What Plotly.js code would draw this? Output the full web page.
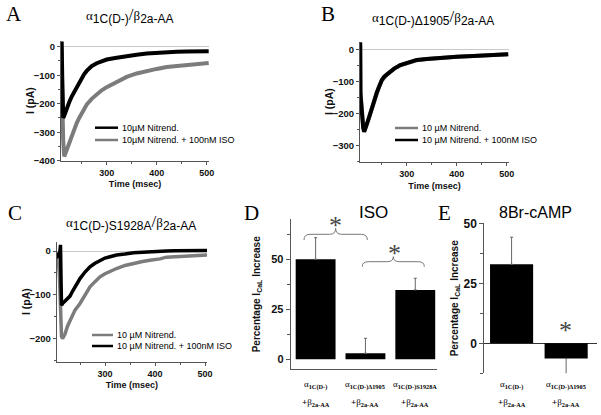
<!DOCTYPE html>
<html><head><meta charset="utf-8">
<script src="https://cdn.plot.ly/plotly-3.0.1.min.js"></script>
<style>html,body{margin:0;padding:0;background:#fff}#chart{width:601px;height:415px}</style>
</head><body><div id="chart"></div>
<script>
// ---------- Panel A ----------
const timeA  = [209, 210, 211, 212, 213, 215, 218, 220, 225, 230, 235, 240, 245, 250, 255, 260, 270, 280, 290, 300, 320, 340, 360, 380, 400, 420, 440, 460, 480, 504];
const blackA = [0, 18, -100, -200, -250, -242, -225, -215, -195, -175, -158, -140, -123, -108, -96, -85, -68, -58, -50, -45, -39, -32, -28, -24, -21, -20, -18, -17, -16, -16];
const grayA  = [0, -50, -150, -250, -330, -385, -372, -362, -338, -310, -290, -268, -250, -232, -216, -203, -183, -167, -153, -142, -122, -106, -94, -85, -78, -71, -67, -63, -60, -57];
const namesA = ['10\u00b5M Nitrend.', '10\u00b5M Nitrend. + 100nM ISO'];

// ---------- Panel B ----------
const timeB  = [206, 207, 207.5, 210, 213, 215, 218, 222, 226, 230, 235, 240, 245, 250, 255, 260, 267, 275, 287, 300, 320, 340, 360, 380, 400, 433, 460, 480, 503];
const grayB  = [0, 15, -130, -195, -240, -250, -242, -224, -204, -186, -160, -136, -115, -98, -87, -79, -70, -60, -50, -43, -34, -30, -27, -25, -23, -21, -19, -17, -15];
const blackB = [0, 22, -140, -200, -245, -256, -245, -225, -205, -188, -160, -135, -113, -96, -85, -78, -70, -60, -49, -42, -33, -30, -27, -24, -23, -21, -19, -17, -15];
const namesB = ['10 \u00b5M Nitrend.', '10 \u00b5M Nitrend. + 100nM ISO'];

// ---------- Panel C ----------
const timeC  = [203, 206, 209, 211, 212, 213, 215, 220, 225, 230, 235, 240, 250, 260, 270, 280, 290, 300, 310, 323, 340, 357, 375, 390, 410, 423, 440, 460, 480, 504];
const grayC  = [-3, -8, -60, -150, -185, -195, -200, -190, -172, -158, -146, -135, -120, -100, -82, -70, -59, -52, -46, -40, -33, -28, -24, -21, -18, -14, -13, -11, -10, -9];
const blackC = [-5, -12, -10, 14, -60, -124, -120, -115, -110, -103, -92, -82, -63, -48, -36, -28, -21, -16, -13, -9, -7, -4, -3, -1.5, -1, 0, 0.5, 1, 1, 1];
const namesC = ['10 \u00b5M Nitrend.', '10 \u00b5M Nitrend. + 100nM ISO'];

// ---------- Panel D (ISO) ----------
const catD   = ['a1C(D-)', 'a1C(D-)D1905', 'a1C(D-)S1928A'];
const valD   = [50, 3, 34.7];
const errD   = [10.8, 7.5, 5.8];
const labD1  = ['\u03b1<sub><b>1C(D-)</b></sub>', '\u03b1<sub><b>1C(D-)\u03941905</b></sub>', '\u03b1<sub><b>1C(D-)S1928A</b></sub>'];
const labD2  = ['<b>+</b>\u03b2<sub><b>2a-AA</b></sub>', '<b>+</b>\u03b2<sub><b>2a-AA</b></sub>', '<b>+</b>\u03b2<sub><b>2a-AA</b></sub>'];

// ---------- Panel E (8Br-cAMP) ----------
const catE   = ['a1C(D-)', 'a1C(D-)D1905'];
const valE   = [32.9, -6.3];
const errEup = [11.3, 0];
const errEdn = [0, 8.3];
const labE1  = ['\u03b1<sub><b>1C(D-)</b></sub>', '\u03b1<sub><b>1C(D-)\u03941905</b></sub>'];
const labE2  = ['<b>+</b>\u03b2<sub><b>2a-AA</b></sub>', '<b>+</b>\u03b2<sub><b>2a-AA</b></sub>'];

// ---------- helpers ----------
const W = 601, H = 415;
const fx = x => x / W, fy = y => 1 - y / H;
const BLACK = '#000', GRAY = '#7c7c7c', AX = '#555';
const SANS = 'Liberation Sans, Arial, sans-serif', SERIF = 'Liberation Serif, Times New Roman, serif';

function ann(x, y, text, size, extra) {
  return Object.assign({xref:'paper', yref:'paper', x:fx(x), y:fy(y), text:text, showarrow:false,
    xanchor:'center', yanchor:'middle', font:{family:SANS, size:size, color:'#000'}}, extra || {});
}
function legLine(x0, x1, y, color) {
  return {type:'line', xref:'paper', yref:'paper', x0:fx(x0), x1:fx(x1), y0:fy(y), y1:fy(y), line:{color:color, width:2.5}};
}
function pathPx(pts) {
  return pts.map(p => p[0] + ' ' + p.slice(1).map((v, i) => (i % 2 === 0 ? fx(v) : fy(v)).toFixed(5)).join(',')).join(' ');
}
function brace(x0, x1, yEnd, yMid, yPeak) {
  const xm = (x0 + x1) / 2, r = 6;
  return {type:'path', xref:'paper', yref:'paper', line:{color:'#777', width:1},
    path: pathPx([['M', x0, yEnd], ['Q', x0, yMid, x0 + r, yMid], ['L', xm - r, yMid], ['Q', xm, yMid, xm, yPeak],
                  ['Q', xm, yMid, xm + r, yMid], ['L', x1 - r, yMid], ['Q', x1, yMid, x1, yEnd]])};
}
function title(x, y, a, sub1, b, sub2) {
  return ann(x, y, '<span style="font-family:Liberation Serif;font-size:13px">' + a + '</span><sub><span style="font-size:12px">' + sub1 +
    '</span></sub><span style="font-family:Liberation Serif;font-size:17px">/</span><span style="font-family:Liberation Serif;font-size:13px">' + b +
    '</span><sub><span style="font-size:12px">' + sub2 + '</span></sub>', 13);
}
const yTitle = (x, y) => ann(x, y, '<b>I (pA)</b>', 10.5, {textangle:-90, font:{family:SANS, size:10.5, color:'#111'}});
const star = (x, y) => ann(x, y, '*', 26, {font:{family:SERIF, size:26, color:'#444'}});

const tickF = s => ({family:SANS, size:s, color:'#111', weight:'bold'});
const titleF = s => ({family:SANS, size:s, color:'#111', weight:'bold'});

function traceX(dom, range, dtick, titleTxt) {
  return {domain:dom, range:range, dtick:dtick, tick0:0, ticks:'outside', ticklen:3, tickcolor:AX, showline:true, linecolor:AX, linewidth:1,
    showgrid:false, zeroline:false, tickfont:tickF(9), minor:{dtick:50, ticks:'outside', ticklen:2, tickcolor:AX},
    title:{text:titleTxt, font:titleF(9), standoff:4}};
}
function traceY(dom, range, anchorX) {
  return {domain:dom, range:range, dtick:100, tick0:0, ticks:'outside', ticklen:3, tickcolor:AX, showline:true, linecolor:AX, linewidth:1,
    showgrid:false, zeroline:true, zerolinecolor:'#c8c8c8', zerolinewidth:1, tickfont:tickF(9.5), minor:{dtick:50, ticks:'outside', ticklen:2, tickcolor:AX},
    anchor:anchorX};
}

const data = [
  {x:timeA, y:grayA,  xaxis:'x',  yaxis:'y',  mode:'lines', name:namesA[1], line:{color:GRAY,  width:4}},
  {x:timeA, y:blackA, xaxis:'x',  yaxis:'y',  mode:'lines', name:namesA[0], line:{color:BLACK, width:4}},
  {x:timeB, y:grayB,  xaxis:'x2', yaxis:'y2', mode:'lines', name:namesB[0], line:{color:GRAY,  width:4}},
  {x:timeB, y:blackB, xaxis:'x2', yaxis:'y2', mode:'lines', name:namesB[1], line:{color:BLACK, width:4}},
  {x:timeC, y:grayC,  xaxis:'x3', yaxis:'y3', mode:'lines', name:namesC[0], line:{color:GRAY,  width:3.5}},
  {x:timeC, y:blackC, xaxis:'x3', yaxis:'y3', mode:'lines', name:namesC[1], line:{color:BLACK, width:3.5}},
  {x:catD, y:valD, type:'bar', xaxis:'x4', yaxis:'y4', width:0.8, marker:{color:BLACK, line:{width:0}}, name:'ISO',
   error_y:{type:'data', symmetric:false, array:errD, arrayminus:[0,0,0], color:'#666', thickness:1, width:1.5}},
  {x:catE, y:valE, type:'bar', xaxis:'x5', yaxis:'y5', width:0.79, marker:{color:BLACK, line:{width:0}}, name:'8Br-cAMP', cliponaxis:false,
   error_y:{type:'data', symmetric:false, array:errEup, arrayminus:errEdn, color:'#666', thickness:1, width:1.5}}
];

const letterF = {family:SERIF, size:21, color:'#000'};
const annotations = [
  ann(14, 14, 'A', 21, {font:letterF}),
  ann(328, 14, 'B', 21, {font:letterF}),
  ann(15, 213, 'C', 21, {font:letterF}),
  ann(251, 213, 'D', 21, {font:letterF}),
  ann(444, 213, 'E', 21, {font:letterF}),
  title(130, 15, '\u03b1', '1C(D-)', '\u03b2', '2a-AA'),
  title(433, 17, '\u03b1', '1C(D-)\u03941905', '\u03b2', '2a-AA'),
  title(131, 222, '\u03b1', '1C(D-)S1928A', '\u03b2', '2a-AA'),
  ann(373, 213, 'ISO', 17),
  ann(535, 213, '8Br-cAMP', 16),
  yTitle(30, 101), yTitle(329, 102), yTitle(26, 302),
  // legends
  ann(120, 127.7, namesA[0], 9, {xanchor:'left'}),
  ann(120, 140, namesA[1], 9, {xanchor:'left'}),
  ann(420, 128, namesB[0], 9, {xanchor:'left'}),
  ann(420, 140, namesB[1], 9, {xanchor:'left'}),
  ann(115, 335, namesC[0], 9, {xanchor:'left'}),
  ann(115, 346, namesC[1], 9, {xanchor:'left'}),
  // asterisks
  star(336, 225), star(394, 253), star(565, 330)
];
labD1.forEach((t, i) => {
  annotations.push({xref:'x4', yref:'paper', x:i, y:fy(385), text:t, showarrow:false, yanchor:'middle', font:{family:SERIF, size:9, color:'#000'}});
  annotations.push({xref:'x4', yref:'paper', x:i, y:fy(402), text:labD2[i], showarrow:false, yanchor:'middle', font:{family:SERIF, size:9, color:'#000'}});
});
labE1.forEach((t, i) => {
  annotations.push({xref:'x5', yref:'paper', x:i, y:fy(385), text:t, showarrow:false, yanchor:'middle', font:{family:SERIF, size:9, color:'#000'}});
  annotations.push({xref:'x5', yref:'paper', x:i, y:fy(402), text:labE2[i], showarrow:false, yanchor:'middle', font:{family:SERIF, size:9, color:'#000'}});
});

const shapes = [
  legLine(95, 118, 127.7, BLACK), legLine(95, 118, 140, GRAY),
  legLine(395, 418, 128, GRAY), legLine(395, 418, 140, BLACK),
  legLine(92, 113, 335, GRAY), legLine(92, 113, 346, BLACK),
  brace(304, 367.3, 240, 234.3, 228.3),
  brace(362.3, 424.3, 266.7, 261.7, 256.7)
];

const layout = {
  width:W, height:H, margin:{l:0, r:0, t:0, b:0}, paper_bgcolor:'#fff', plot_bgcolor:'rgba(0,0,0,0)', showlegend:false,
  font:{family:SANS, color:'#000'},
  xaxis:  traceX([fx(61), fx(209)], [208.6, 504.6], 100, 'Time (msec)'),
  yaxis:  traceY([fy(160.7), fy(40.7)], [-400, 21], 'x'),
  xaxis2: Object.assign(traceX([fx(360), fx(509)], [206.6, 504.6], 100, 'Time (msec)'), {anchor:'y2'}),
  yaxis2: traceY([fy(162.3), fy(41.7)], [-351, 23.6], 'x2'),
  xaxis3: Object.assign(traceX([fx(56.7), fx(207)], [203.4, 504], 100, 'Time (msec)'), {anchor:'y3'}),
  yaxis3: traceY([fy(361.7), fy(241.7)], [-253, 21.3], 'x3'),
  xaxis4: {domain:[fx(290.7), fx(436.7)], range:[-0.5, 2.43], anchor:'y4', showline:true, linecolor:AX, linewidth:1, ticks:'', showticklabels:false, showgrid:false, zeroline:false, type:'category'},
  yaxis4: {domain:[fy(369.3), fy(219.3)], range:[-5, 70], anchor:'x4', tickvals:[0,25,50], ticks:'outside', ticklen:4, tickcolor:AX, showline:true, linecolor:AX, linewidth:1,
           showgrid:false, zeroline:false, tickfont:tickF(11), minor:{tickvals:[12.5,37.5,62.5], ticks:'outside', ticklen:3, tickcolor:AX},
           title:{text:'Percentage I<sub>CaL</sub> Increase', font:titleF(10), standoff:8}},
  xaxis5: {domain:[fx(484.3), fx(596.7)], range:[-0.5, 1.56], anchor:'y5', showline:false, ticks:'', showticklabels:false, showgrid:false, zeroline:false, type:'category'},
  yaxis5: {domain:[fy(373.3), fy(223.3)], range:[-12.5, 50], anchor:'x5', tickvals:[0,25,50], ticks:'outside', ticklen:4, tickcolor:AX, showline:true, linecolor:AX, linewidth:1,
           showgrid:false, zeroline:true, zerolinecolor:'#333', zerolinewidth:1, tickfont:tickF(12), minor:{tickvals:[-12.5,12.5,37.5], ticks:'outside', ticklen:3, tickcolor:AX},
           title:{text:'Percentage I<sub>CaL</sub> Increase', font:titleF(10), standoff:3}},
  annotations:annotations,
  shapes:shapes
};

Plotly.newPlot('chart', data, layout, {staticPlot:true, displayModeBar:false});
</script></body></html>
